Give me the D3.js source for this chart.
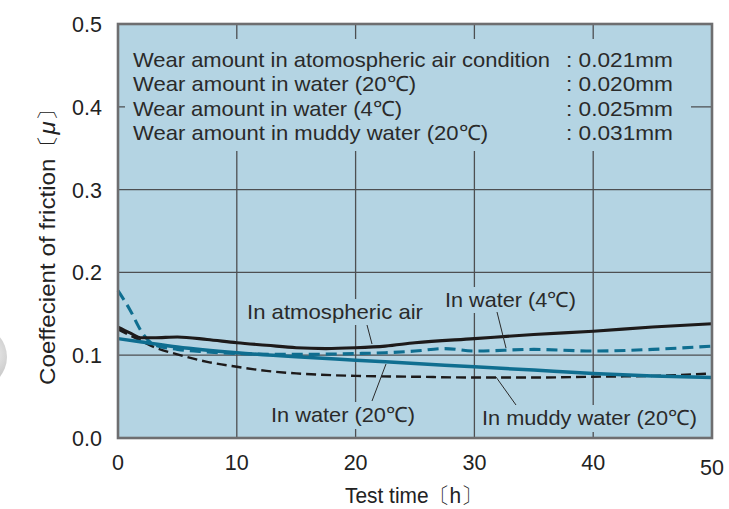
<!DOCTYPE html>
<html><head><meta charset="utf-8">
<script src="https://cdn.jsdelivr.net/npm/d3@7"></script>
<style>
body{margin:0;background:#fff;}
svg{display:block;font-family:"Liberation Sans",Arial,Helvetica,sans-serif;}
</style></head>
<body><svg id="c" width="729" height="509"></svg>
<script>
// ---- data ----
const xTicks = [0, 10, 20, 30, 40, 50];
const yTicks = [0.0, 0.1, 0.2, 0.3, 0.4, 0.5];
const airT   = [0, 1, 2, 3, 5, 7.5, 10, 12.5, 15, 17.5, 20, 22.5, 25, 30, 35, 40, 45, 50];
const airV   = [0.134, 0.127, 0.121, 0.121, 0.122, 0.119, 0.115, 0.112, 0.109, 0.108, 0.109, 0.111, 0.115, 0.120, 0.125, 0.129, 0.134, 0.138];
const w4T    = [0, 1, 2, 3, 5, 7.5, 10, 15, 20, 22.5, 25, 27.5, 30, 35, 40, 45, 50];
const w4V    = [0.178, 0.155, 0.128, 0.113, 0.107, 0.104, 0.102, 0.101, 0.102, 0.103, 0.105, 0.108, 0.105, 0.107, 0.105, 0.107, 0.111];
const w20T   = [0, 2, 5, 10, 15, 20, 25, 30, 35, 40, 45, 50];
const w20V   = [0.120, 0.116, 0.110, 0.103, 0.098, 0.094, 0.090, 0.086, 0.082, 0.078, 0.075, 0.073];
const mudT   = [0, 1, 2, 3, 5, 7.5, 10, 12.5, 15, 20, 25, 30, 35, 40, 45, 50];
const mudV   = [0.131, 0.124, 0.117, 0.110, 0.101, 0.092, 0.086, 0.081, 0.078, 0.075, 0.074, 0.073, 0.073, 0.074, 0.075, 0.078];
const wearLabels = ["Wear amount in atomospheric air condition", "Wear amount in water (20\u2103)", "Wear amount in water (4\u2103)", "Wear amount in muddy water (20\u2103)"];
const wearValues = [": 0.021mm", ": 0.020mm", ": 0.025mm", ": 0.031mm"];

const svg = d3.select("#c");
const L = 118, R = 712, T = 24, B = 438;
const x = d3.scaleLinear().domain([0, 50]).range([L, R]);
const y = d3.scaleLinear().domain([0, 0.5]).range([B, T]);
const BG = "#b4d4e3", GRID = "#4d4f52", BLUE = "#0f6e90", BLACK = "#1d1a1a", TXT = "#2a2a2a";

// decorative partial circle at left edge
const defs = svg.append("defs");
const rg = defs.append("radialGradient").attr("id", "rg").attr("cx", "0.7").attr("cy", "0.45").attr("r", "0.6");
rg.append("stop").attr("offset", "0").attr("stop-color", "#f2f2f2");
rg.append("stop").attr("offset", "0.7").attr("stop-color", "#c8c8c8");
rg.append("stop").attr("offset", "1").attr("stop-color", "#808080");
svg.append("circle").attr("cx", -24).attr("cy", 357).attr("r", 31).attr("fill", "url(#rg)");

// background
svg.append("rect").attr("x", L).attr("y", T).attr("width", R - L).attr("height", B - T).attr("fill", BG);

// grid
const g = svg.append("g");
g.selectAll(".vg").data(xTicks.slice(1, -1)).join("line")
  .attr("x1", d => x(d)).attr("x2", d => x(d)).attr("y1", T).attr("y2", B)
  .attr("stroke", GRID).attr("stroke-width", 1.3);
g.selectAll(".hg").data(yTicks.slice(1, -1)).join("line")
  .attr("x1", L).attr("x2", R).attr("y1", d => y(d)).attr("y2", d => y(d))
  .attr("stroke", GRID).attr("stroke-width", 1.3);

// mask for wear-amount text box
svg.append("rect").attr("x", L + 7).attr("y", 39).attr("width", 691 - L - 7).attr("height", 151 - 39).attr("fill", BG);

// label masks
function mask(x0, y0, w, h) { svg.append("rect").attr("x", x0).attr("y", y0).attr("width", w).attr("height", h).attr("fill", BG); }
mask(243, 299, 184, 26);
mask(441, 287, 139, 26);
mask(267, 402, 152, 27);
mask(478, 405, 223, 27);

// wear text
const wearLen = [417, 283, 269, 355];
const wt = svg.append("g").attr("font-size", 21).attr("fill", TXT);
wearLabels.forEach((s, i) => {
  wt.append("text").attr("x", 133).attr("y", 67 + i * 24.3).attr("textLength", wearLen[i]).attr("lengthAdjust", "spacingAndGlyphs").text(s);
  wt.append("text").attr("x", 566).attr("y", 67 + i * 24.3).attr("textLength", 107).attr("lengthAdjust", "spacingAndGlyphs").text(wearValues[i]);
});

// lines
const line = d3.line().x(d => x(d[0])).y(d => y(d[1])).curve(d3.curveMonotoneX);
const zip = (a, b) => a.map((t, i) => [t, b[i]]);
const plot = svg.append("g").attr("fill", "none").attr("stroke-linecap", "butt");
plot.append("path").attr("d", line(zip(mudT, mudV))).attr("stroke", BLACK).attr("stroke-width", 2.4).attr("stroke-dasharray", "10,5");
plot.append("path").attr("d", line(zip(w20T, w20V))).attr("stroke", BLUE).attr("stroke-width", 3.5);
plot.append("path").attr("d", line(zip(w4T, w4V))).attr("stroke", BLUE).attr("stroke-width", 3.1).attr("stroke-dasharray", "11,6");
plot.append("path").attr("d", line(zip(airT, airV))).attr("stroke", BLACK).attr("stroke-width", 3.1);

// curve labels + leaders
const lab = svg.append("g").attr("font-size", 21).attr("fill", TXT);
lab.append("text").attr("x", 247).attr("y", 319).attr("textLength", 176).attr("lengthAdjust", "spacingAndGlyphs").text("In atmospheric air");
lab.append("text").attr("x", 445).attr("y", 307).attr("textLength", 131).attr("lengthAdjust", "spacingAndGlyphs").text("In water (4\u2103)");
lab.append("text").attr("x", 271).attr("y", 422).attr("textLength", 144).attr("lengthAdjust", "spacingAndGlyphs").text("In water (20\u2103)");
lab.append("text").attr("x", 482).attr("y", 425).attr("textLength", 215).attr("lengthAdjust", "spacingAndGlyphs").text("In muddy water (20\u2103)");
const ld = svg.append("g").attr("stroke", TXT).attr("stroke-width", 1);
[[367, 325, 372, 344], [497, 312, 506, 348], [372, 401, 386, 364], [516, 405, 496, 377]].forEach(a =>
  ld.append("line").attr("x1", a[0]).attr("y1", a[1]).attr("x2", a[2]).attr("y2", a[3]));

// frame
svg.append("rect").attr("x", L).attr("y", T).attr("width", R - L).attr("height", B - T)
  .attr("fill", "none").attr("stroke", "#6e6e70").attr("stroke-width", 2.6);

// tick labels
const tl = svg.append("g").attr("font-size", 21.5).attr("fill", "#222");
tl.selectAll(".yl").data(yTicks).join("text")
  .attr("x", 102).attr("y", d => y(d) + 8).attr("text-anchor", "end").text(d => d.toFixed(1));
tl.selectAll(".xl").data(xTicks).join("text")
  .attr("x", d => x(d)).attr("y", d => d === 50 ? 475 : 470).attr("text-anchor", "middle").text(d => d);

// axis titles
svg.append("text").attr("x", 345).attr("y", 503).attr("font-size", 22).attr("fill", "#222")
  .attr("textLength", 137).attr("lengthAdjust", "spacingAndGlyphs")
  .text("Test time\u3014h\u3015");
const yt = svg.append("text").attr("transform", "translate(55,385) rotate(-90)")
  .attr("font-size", 22).attr("fill", "#222").attr("textLength", 288).attr("lengthAdjust", "spacingAndGlyphs");
yt.append("tspan").text("Coeffecient of friction\u3014");
yt.append("tspan").attr("font-style", "italic").text("\u03bc");
yt.append("tspan").text("\u3015");
</script></body></html>
